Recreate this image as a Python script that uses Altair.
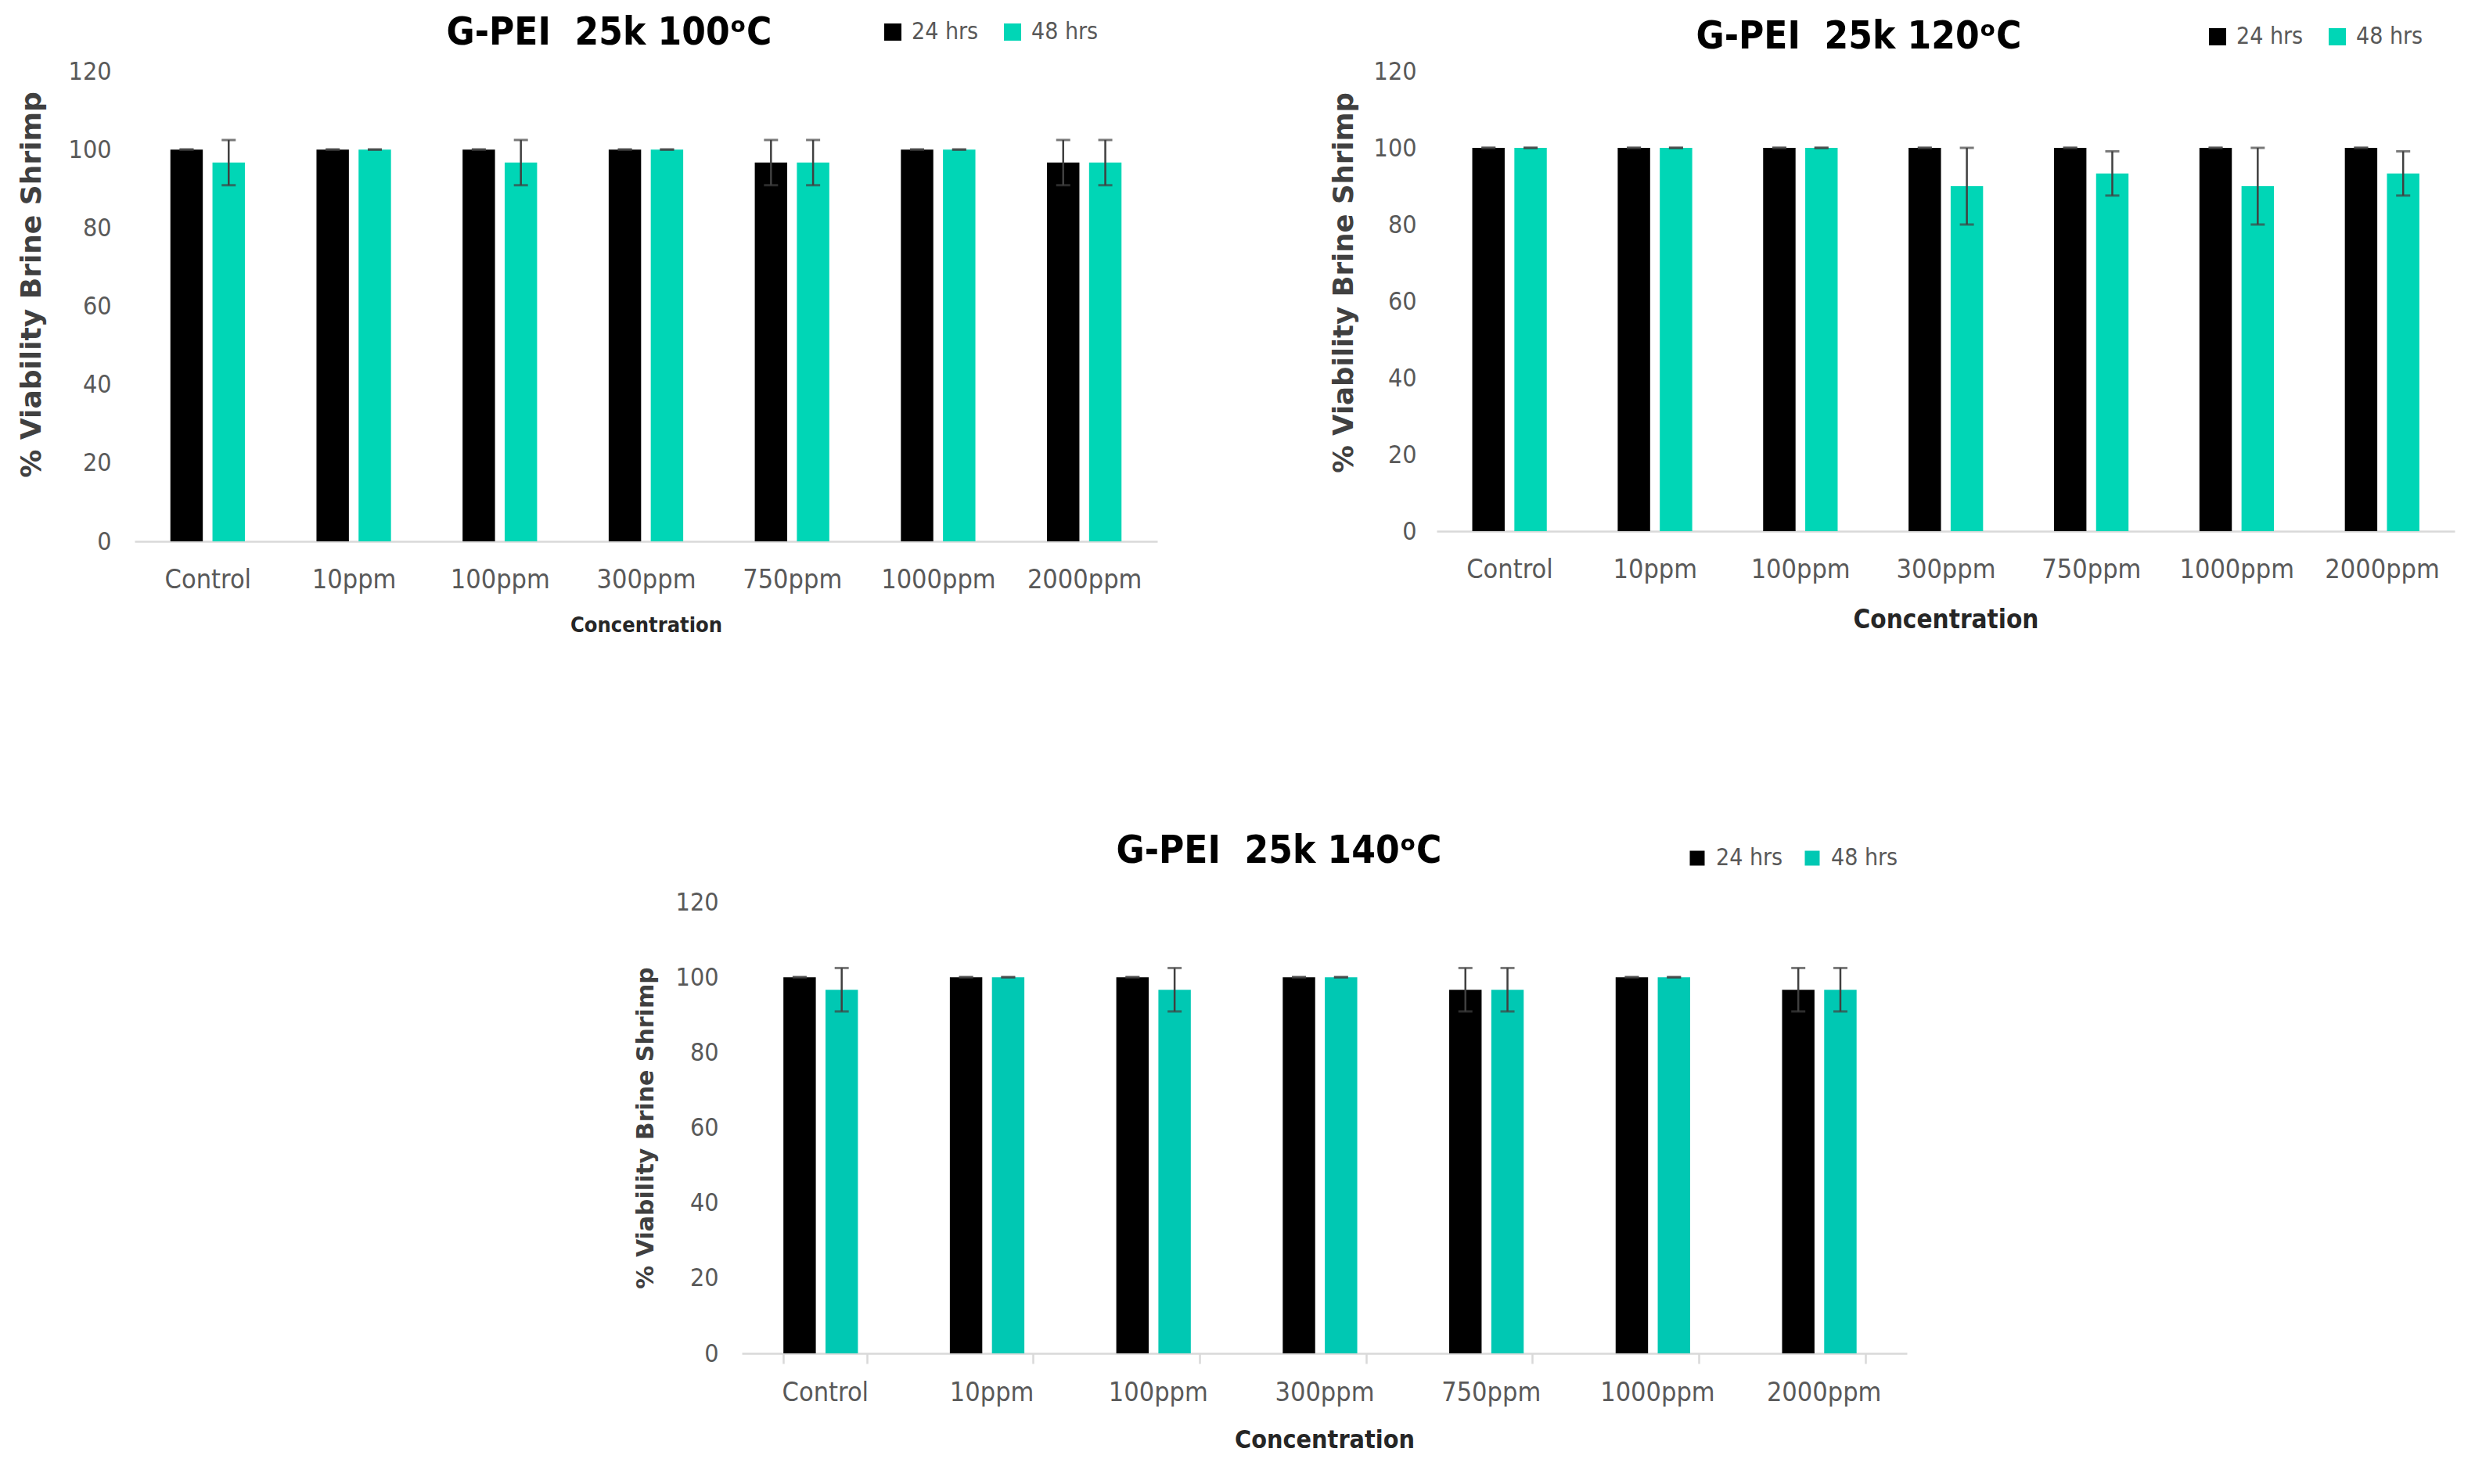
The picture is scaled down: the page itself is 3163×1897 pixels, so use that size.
import altair as alt
import pandas as pd

categories = ["Control", "10ppm", "100ppm", "300ppm", "750ppm", "1000ppm", "2000ppm"]
series_names = ["24 hrs", "48 hrs"]

# G-PEI 25k 100ºC
t100_24 = [100, 100, 100, 100, 96.67, 100, 96.67]
t100_48 = [96.67, 100, 96.67, 100, 96.67, 100, 96.67]
t100_24_err = [0, 0, 0, 0, 5.77, 0, 5.77]
t100_48_err = [5.77, 0, 5.77, 0, 5.77, 0, 5.77]

# G-PEI 25k 120ºC
t120_24 = [100, 100, 100, 100, 100, 100, 100]
t120_48 = [100, 100, 100, 90, 93.33, 90, 93.33]
t120_24_err = [0, 0, 0, 0, 0, 0, 0]
t120_48_err = [0, 0, 0, 10, 5.77, 10, 5.77]

# G-PEI 25k 140ºC
t140_24 = [100, 100, 100, 100, 96.67, 100, 96.67]
t140_48 = [96.67, 100, 96.67, 100, 96.67, 100, 96.67]
t140_24_err = [0, 0, 0, 0, 5.77, 0, 5.77]
t140_48_err = [5.77, 0, 5.77, 0, 5.77, 0, 5.77]

NARROW = "DejaVu Sans Condensed, DejaVu Sans, sans-serif"
WIDE = "DejaVu Sans, Verdana, sans-serif"
ERR_COLOR = "#404040"


def panel(title, v24, v48, e24, e48, teal, W, H, p):
    df = pd.DataFrame({
        "conc": categories * 2,
        "series": [series_names[0]] * 7 + [series_names[1]] * 7,
        "value": v24 + v48,
        "err": e24 + e48,
    })
    base = alt.Chart(df).transform_calculate(
        lo="datum.value - datum.err", hi="datum.value + datum.err"
    )
    x = alt.X(
        "conc:N", sort=categories,
        scale=alt.Scale(paddingInner=p["pi"], paddingOuter=p["pi"] / 2),
        axis=alt.Axis(
            title="Concentration", labelAngle=0, labelFont=NARROW, labelFontSize=34,
            labelColor="#595959", labelPadding=p["lp"],
            domainColor="#D9D9D9", domainWidth=2.5,
            ticks=p["ticks"], tickBand="extent", tickColor="#D9D9D9", tickWidth=2.5,
            tickSize=13 if p["ticks"] else 0,
            titleFont=NARROW, titleFontSize=p["xt"], titleFontWeight="bold",
            titleColor="#262626", titlePadding=p["xtp"],
        ),
    )
    xo = alt.XOffset("series:N", sort=series_names,
                     scale=alt.Scale(paddingInner=p["oi"], paddingOuter=0))
    y_axis = alt.Axis(
        title="% Viability Brine Shrimp", values=[0, 20, 40, 60, 80, 100, 120],
        grid=False, domain=False, ticks=False, tickSize=0,
        labelFont=NARROW, labelFontSize=32, labelColor="#595959", labelPadding=p["ylp"],
        titleFont=WIDE, titleFontSize=p["yt"], titleFontWeight="bold",
        titleColor="#404040", titlePadding=p["ytp"], titleY=H / 2 + p["ty"],
    )
    bars = base.mark_bar().encode(
        x=x, xOffset=xo,
        y=alt.Y("value:Q", scale=alt.Scale(domain=[0, 120], nice=False), axis=y_axis),
        color=alt.Color(
            "series:N",
            scale=alt.Scale(domain=series_names, range=["#000000", teal]),
            legend=alt.Legend(
                title=None, orient="none", direction="horizontal",
                legendX=p["lx"], legendY=p["ly"],
                symbolType="square", symbolSize=p["ss"], symbolStrokeWidth=0,
                labelFont=NARROW, labelFontSize=30, labelColor="#595959",
                labelOffset=9, columnPadding=p["cp"],
            ),
        ),
    )
    rule = base.mark_rule(color=ERR_COLOR, strokeWidth=2.5).encode(
        x=x, xOffset=xo, y="lo:Q", y2="hi:Q"
    )
    cap_hi = base.mark_tick(color=ERR_COLOR, size=18, thickness=3).encode(
        x=x, xOffset=xo, y="hi:Q"
    )
    cap_lo = base.mark_tick(color=ERR_COLOR, size=18, thickness=3).encode(
        x=x, xOffset=xo, y="lo:Q"
    )
    return alt.layer(bars, rule, cap_hi, cap_lo).properties(
        width=W, height=H,
        title=alt.TitleParams(
            text=title, anchor="middle", frame="group", dx=p["dx"], dy=p["dy"],
            offset=0, baseline="alphabetic",
            font=NARROW, fontSize=49, fontWeight="bold", color="#000000",
        ),
    )


c1 = panel("G-PEI\u00a0 25k 100\u1d52C", t100_24, t100_48, t100_24_err, t100_48_err,
           "#00D6B6", 1307, 601,
           dict(pi=0.49, oi=0.23, lp=32, xt=27, xtp=28, ylp=30, yt=36, ytp=28, ty=-28,
                lx=954, ly=-65, ss=484, cp=28, dx=-47, dy=80, ticks=False))
c2 = panel("G-PEI\u00a0 25k 120\u1d52C", t120_24, t120_48, t120_24_err, t120_48_err,
           "#00D6B6", 1301, 588,
           dict(pi=0.49, oi=0.24, lp=32, xt=33, xtp=31, ylp=26, yt=35.5, ytp=20, ty=-24,
                lx=983, ly=-59, ss=484, cp=28, dx=-111, dy=79, ticks=False))
c3 = panel("G-PEI\u00a0 25k 140\u1d52C", t140_24, t140_48, t140_24_err, t140_48_err,
           "#00C8B3", 1489, 577,
           dict(pi=0.50, oi=0.23, lp=20, xt=32, xtp=28, ylp=30, yt=30, ytp=23, ty=0,
                lx=1206, ly=-71, ss=361, cp=22, dx=-58, dy=70, ticks=True))

spacer = alt.Chart(pd.DataFrame({"s": [0]})).mark_point(opacity=0, size=1).encode(
    x=alt.X("s:Q", axis=None), y=alt.Y("s:Q", axis=None)
).properties(width=1, height=1)

top = alt.hconcat(c1, c2, spacing=221).resolve_scale(
    color="independent").resolve_legend(color="independent")
bottom = alt.hconcat(spacer, c3, spacing=637).resolve_scale(
    color="independent").resolve_legend(color="independent")

chart = alt.vconcat(top, bottom, spacing=252).resolve_scale(
    color="independent").resolve_legend(color="independent").properties(
    padding={"left": 14, "top": 10, "right": 5, "bottom": 5},
    background="white",
).configure_view(stroke=None)

chart.save("out.html", embed_options={"renderer": "svg", "actions": False})
